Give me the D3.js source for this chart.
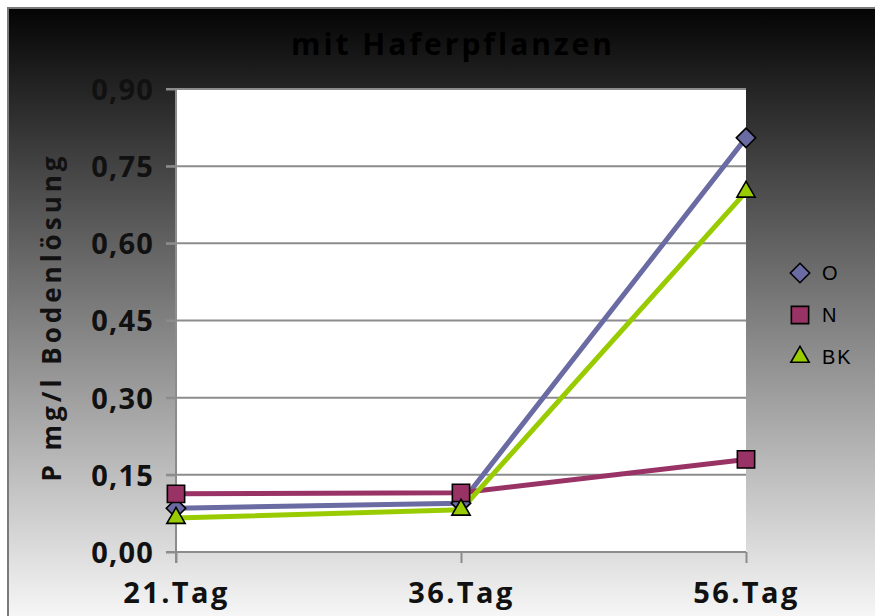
<!DOCTYPE html>
<html>
<head>
<meta charset="utf-8">
<script src="https://d3js.org/d3.v7.min.js"></script>
<style>
  html, body { margin: 0; padding: 0; background: #fff; }
  svg { display: block; font-family: "Open Sans", "DejaVu Sans", sans-serif; }
</style>
</head>
<body>
<svg id="chart" width="875" height="616"></svg>
<script>
// Phosphorus in soil solution with oat plants
const categories = ["21.Tag", "36.Tag", "56.Tag"];
const seriesNames = ["O", "N", "BK"];
const valuesO  = [0.085, 0.095, 0.805];
const valuesN  = [0.113, 0.115, 0.180];
const valuesBK = [0.066, 0.082, 0.700];
const yTicks = [0, 0.15, 0.30, 0.45, 0.60, 0.75, 0.90];
const colors = { O: "#6b6ba3", N: "#993366", BK: "#99cc00" };
const symbols = { O: d3.symbolDiamond2, N: d3.symbolSquare2, BK: d3.symbolTriangle2 };
const symbolSizes = { O: 240, N: 380, BK: 240 };

const series = [
  { name: "O", values: valuesO },
  { name: "N", values: valuesN },
  { name: "BK", values: valuesBK }
];

const W = 875, H = 616;
const plot = { left: 176, right: 746, top: 89, bottom: 552 };
const svg = d3.select("#chart");

// Background gradient frame
const defs = svg.append("defs");
const grad = defs.append("linearGradient").attr("id", "bg")
  .attr("gradientUnits", "userSpaceOnUse")
  .attr("x1", 0).attr("y1", 8).attr("x2", 0).attr("y2", H);
grad.append("stop").attr("offset", "0%").attr("stop-color", "#040404");
grad.append("stop").attr("offset", "100%").attr("stop-color", "#f6f6f6");

svg.append("rect").attr("x", 8).attr("y", 8).attr("width", W).attr("height", H)
  .attr("fill", "url(#bg)").attr("stroke", "#7a7a7a").attr("stroke-width", 2);

// Title
svg.append("text").attr("x", 453).attr("y", 55).attr("text-anchor", "middle")
  .attr("font-size", 30).attr("font-weight", 700).attr("letter-spacing", 3)
  .attr("fill", "#000").text("mit Haferpflanzen");

const x = d3.scalePoint().domain(categories).range([plot.left, plot.right]).padding(0);
const y = d3.scaleLinear().domain([0, 0.9]).range([plot.bottom, plot.top]);

// Plot area
svg.append("rect").attr("x", plot.left).attr("y", plot.top)
  .attr("width", plot.right - plot.left).attr("height", plot.bottom - plot.top)
  .attr("fill", "#fff");

// Gridlines
svg.append("g").selectAll("line").data(yTicks).join("line")
  .attr("x1", plot.left - 10).attr("x2", plot.right)
  .attr("y1", d => y(d)).attr("y2", d => y(d))
  .attr("stroke", "#8c8c8c").attr("stroke-width", 2);

// Y axis
const yAxis = svg.append("g").attr("transform", `translate(${plot.left},0)`)
  .call(d3.axisLeft(y).tickValues(yTicks).tickSize(10).tickPadding(12)
    .tickFormat(d => d3.format(".2f")(d).replace(".", ",")));
yAxis.select(".domain").remove();
yAxis.selectAll(".tick line").attr("stroke", "#8c8c8c").attr("stroke-width", 2);
yAxis.selectAll(".tick text").attr("font-size", 29).attr("font-weight", 700)
  .attr("letter-spacing", 1.2)
  .attr("fill", "#111").attr("font-family", "\"Open Sans\", sans-serif").attr("dy", "0.36em");
svg.append("line").attr("x1", plot.left).attr("x2", plot.left)
  .attr("y1", plot.top).attr("y2", plot.bottom + 11)
  .attr("stroke", "#8c8c8c").attr("stroke-width", 2);

// X axis
const xAxis = svg.append("g").attr("transform", `translate(0,${plot.bottom})`)
  .call(d3.axisBottom(x).tickSize(11).tickPadding(19));
xAxis.select(".domain").remove();
xAxis.selectAll(".tick line").attr("stroke", "#8c8c8c").attr("stroke-width", 2);
xAxis.selectAll(".tick text").attr("font-size", 29).attr("font-weight", 700)
  .attr("letter-spacing", 2.4).attr("fill", "#111").attr("font-family", "\"Open Sans\", sans-serif");

// Y axis title
svg.append("text").attr("transform", "translate(61,317) rotate(-90)")
  .attr("text-anchor", "middle").attr("font-size", 26).attr("font-weight", 700)
  .attr("letter-spacing", 4).attr("fill", "#111").text("P mg/l Bodenlösung");

// Lines
const line = d3.line().x((d, i) => x(categories[i])).y(d => y(d));
svg.append("g").selectAll("path").data(series).join("path")
  .attr("d", s => line(s.values)).attr("fill", "none")
  .attr("stroke", s => colors[s.name]).attr("stroke-width", 5)
  .attr("stroke-linejoin", "round");

// Markers (drawn in order O, N, BK so that BK sits on top)
series.forEach(s => {
  svg.append("g").selectAll("path").data(s.values).join("path")
    .attr("transform", (d, i) => `translate(${x(categories[i])},${y(d)})`)
    .attr("d", d3.symbol().type(symbols[s.name]).size(symbolSizes[s.name]))
    .attr("fill", colors[s.name]).attr("stroke", "#000").attr("stroke-width", 1.6);
});

// Legend
const legend = svg.append("g");
series.forEach((s, i) => {
  const ly = 273 + i * 42;
  legend.append("path").attr("transform", `translate(800,${ly})`)
    .attr("d", d3.symbol().type(symbols[s.name]).size(symbolSizes[s.name]))
    .attr("fill", colors[s.name]).attr("stroke", "#000").attr("stroke-width", 1.6);
  legend.append("text").attr("x", 822).attr("y", ly + 7)
    .attr("font-size", 20).attr("letter-spacing", 2).attr("fill", "#000")
    .attr("font-family", "\"Liberation Sans\", sans-serif").text(s.name);
});
</script>
</body>
</html>
